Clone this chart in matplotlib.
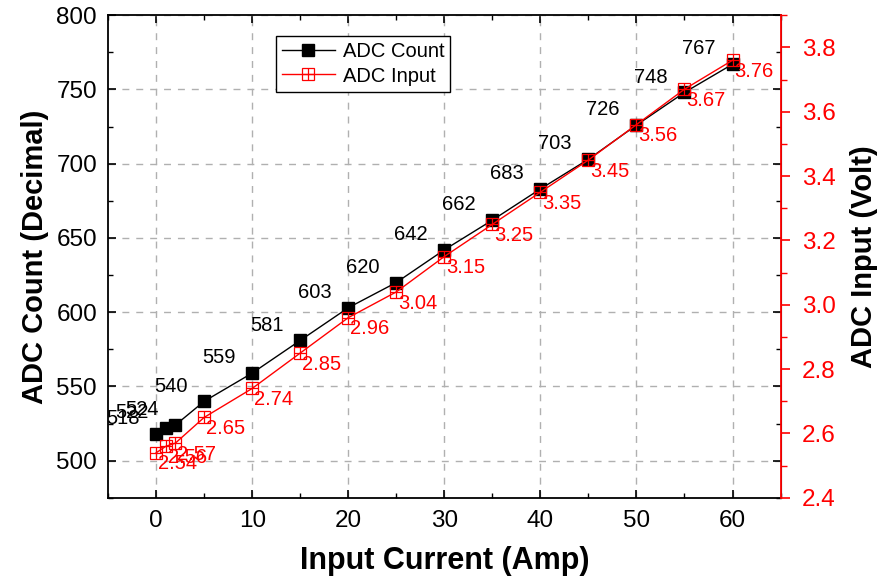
import matplotlib
matplotlib.use("Agg")
import matplotlib.pyplot as plt
from matplotlib.ticker import MultipleLocator, FormatStrFormatter
from matplotlib.lines import Line2D

plt.rcParams['font.family'] = ['Liberation Sans', 'DejaVu Sans']

current = [0, 1, 2, 5, 10, 15, 20, 25, 30, 35, 40, 45, 50, 55, 60]
adc_count = [518, 522, 524, 540, 559, 581, 603, 620, 642, 662, 683, 703, 726, 748, 767]
adc_input = [2.54, 2.56, 2.57, 2.65, 2.74, 2.85, 2.96, 3.04, 3.15, 3.25, 3.35, 3.45, 3.56, 3.67, 3.76]

fig = plt.figure(figsize=(8.79, 5.85), dpi=100)
ax = fig.add_axes([0.123, 0.149, 0.765, 0.825])
ax2 = ax.twinx()

ax.set_xlim(-5, 65)
ax.set_ylim(475, 800)
ax2.set_ylim(2.4, 3.9)

ax.grid(True, which='major', linestyle=(0, (5, 5)), color='#b0b0b0', linewidth=1)
ax.set_axisbelow(True)

ax.plot(current, adc_count, color='black', linewidth=1, marker='s',
        markersize=8, markerfacecolor='black', markeredgecolor='black', zorder=3)
for x, y in zip(current, adc_count):
    ax.annotate(str(y), (x, y), xytext=(-24, 11), textcoords='offset points',
                ha='center', va='center', fontsize=14.5, color='black')

ax2.plot(current, adc_input, color='red', linewidth=1, marker='s',
         markersize=8, markerfacecolor='none', markeredgecolor='red',
         markeredgewidth=0.9, zorder=4)
ax2.plot(current, adc_input, linestyle='none', marker='+', markersize=8,
         markeredgecolor='red', markeredgewidth=0.9, zorder=4)
for x, y in zip(current, adc_input):
    ax2.annotate(f"{y:.2f}", (x, y), xytext=(1.5, -8), textcoords='offset points',
                 ha='left', va='center', fontsize=14.5, color='red')

h1 = Line2D([], [], color='black', linewidth=1, marker='s', markersize=8)
h2a = Line2D([], [], color='red', linewidth=1, marker='s', markersize=8,
             markerfacecolor='none', markeredgecolor='red', markeredgewidth=0.9)
h2b = Line2D([], [], linestyle='none', marker='+', markersize=8,
             markeredgecolor='red', markeredgewidth=0.9)
leg = ax.legend([h1, (h2a, h2b)], ['ADC Count', 'ADC Input'],
                loc='upper left', bbox_to_anchor=(0.25, 0.956), fontsize=14.5,
                frameon=True, fancybox=False, edgecolor='black', framealpha=1,
                handlelength=2.6, borderpad=0.3, labelspacing=0.25,
                handletextpad=0.4, borderaxespad=0)
leg.get_frame().set_linewidth(1)

ax.xaxis.set_major_locator(MultipleLocator(10))
ax.xaxis.set_minor_locator(MultipleLocator(5))
ax.yaxis.set_major_locator(MultipleLocator(50))
ax.yaxis.set_minor_locator(MultipleLocator(25))
ax2.yaxis.set_major_locator(MultipleLocator(0.2))
ax2.yaxis.set_minor_locator(MultipleLocator(0.1))

ax.tick_params(axis='both', which='major', direction='in', length=6, width=1.2,
               labelsize=17.5, top=True, right=True, pad=8)
ax.tick_params(axis='both', which='minor', direction='in', length=3.5, width=1,
               top=True, right=True)
ax.tick_params(axis='x', pad=9)
ax2.tick_params(axis='y', which='major', direction='out', length=6.5, width=1.2,
                colors='red', labelsize=17.5, pad=9)
ax2.tick_params(axis='y', which='minor', direction='out', length=4, width=1,
                colors='red')
ax2.yaxis.set_major_formatter(FormatStrFormatter('%.1f'))

for s in ['left', 'bottom', 'top']:
    ax.spines[s].set_linewidth(1.3)
ax2.spines['right'].set_color('red')
ax2.spines['right'].set_linewidth(1.3)
ax2.spines['left'].set_visible(False)
ax2.spines['top'].set_visible(False)
ax2.spines['bottom'].set_visible(False)

ax.set_xlabel('Input Current (Amp)', fontsize=22, fontweight='bold', labelpad=10)
ax.set_ylabel('ADC Count (Decimal)', fontsize=21, fontweight='bold', labelpad=5)
ax2.set_ylabel('ADC Input (Volt)', fontsize=21, fontweight='bold', labelpad=10, color='black')

fig.savefig('out.png', dpi=100)
